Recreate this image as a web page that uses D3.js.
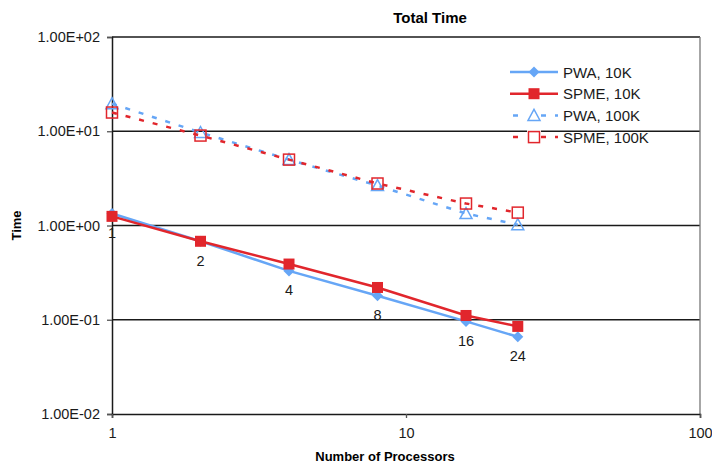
<!DOCTYPE html>
<html>
<head>
<meta charset="utf-8">
<script src="https://cdn.jsdelivr.net/npm/d3@7"></script>
<style>
  body { margin: 0; background: #fff; }
  text { font-family: "Liberation Sans", Arial, sans-serif; }
</style>
</head>
<body>
<div id="chart"></div>
<script>
const processors = [1, 2, 4, 8, 16, 24];
const pwa10k = [1.34, 0.68, 0.33, 0.18, 0.096, 0.066];
const spme10k = [1.25, 0.68, 0.39, 0.22, 0.111, 0.085];
const pwa100k = [19.6, 9.7, 5.0, 2.65, 1.34, 1.02];
const spme100k = [15.8, 9.0, 5.0, 2.79, 1.71, 1.37];
const pointLabels = ['1', '2', '4', '8', '16', '24'];
const yTicks = [0.01, 0.1, 1, 10, 100];
const xTicks = [1, 10, 100];

const blue = '#66a6f6';
const red = '#e1262c';

const series = [
  { name: 'PWA, 10K', values: pwa10k, col: blue, dash: null, marker: 'diamond', filled: true },
  { name: 'SPME, 10K', values: spme10k, col: red, dash: null, marker: 'square', filled: true },
  { name: 'PWA, 100K', values: pwa100k, col: blue, dash: '5,9', marker: 'triangle', filled: false },
  { name: 'SPME, 100K', values: spme100k, col: red, dash: '5,9', marker: 'square', filled: false }
];

const w = 712, h = 465;
const plotL = 112, plotR = 700, plotT = 37, plotB = 414;

const x = d3.scaleLog().domain([1, 100]).range([plotL, plotR]);
const y = d3.scaleLog().domain([0.01, 100]).range([plotB, plotT]);

const svg = d3.select('#chart').append('svg')
  .attr('width', w)
  .attr('height', h);

// grid lines + frame
svg.selectAll('.grid')
  .data(yTicks.slice(1, -1))
  .join('line')
  .attr('x1', plotL).attr('x2', plotR)
  .attr('y1', d => y(d)).attr('y2', d => y(d))
  .attr('stroke', '#1a1a1a')
  .attr('stroke-width', 1.3);

svg.append('line')
  .attr('x1', plotL).attr('x2', plotR).attr('y1', plotT).attr('y2', plotT)
  .attr('stroke', '#1a1a1a').attr('stroke-width', 1.3);
svg.append('line')
  .attr('x1', plotR).attr('x2', plotR).attr('y1', plotT).attr('y2', plotB)
  .attr('stroke', '#777').attr('stroke-width', 1.3);

const fmtE = d => {
  const e = Math.round(Math.log10(d));
  const m = (d / Math.pow(10, e)).toFixed(2);
  return `${m}E${e < 0 ? '-' : '+'}${String(Math.abs(e)).padStart(2, '0')}`;
};

const yAxis = svg.append('g')
  .attr('transform', `translate(${plotL},0)`)
  .call(d3.axisLeft(y).tickValues(yTicks).tickFormat(fmtE).tickSize(5).tickPadding(7));
const xAxis = svg.append('g')
  .attr('transform', `translate(0,${plotB})`)
  .call(d3.axisBottom(x).tickValues(xTicks).tickFormat(d3.format('d')).tickSize(4).tickPadding(10));

[yAxis, xAxis].forEach(a => {
  a.select('.domain').attr('stroke', '#1a1a1a').attr('stroke-width', 1.5);
  a.selectAll('.tick line').attr('stroke', '#555').attr('stroke-width', 1.3);
  a.selectAll('.tick text').style('font-size', '14.5px').attr('fill', '#1a1a1a')
    .style('font-family', '"Liberation Sans", Arial, sans-serif');
});

// titles
svg.append('text')
  .attr('x', 430).attr('y', 23)
  .attr('text-anchor', 'middle')
  .style('font-size', '15px').style('font-weight', 'bold')
  .text('Total Time');

svg.append('text')
  .attr('x', 385).attr('y', 461)
  .attr('text-anchor', 'middle')
  .style('font-size', '13px').style('font-weight', 'bold')
  .text('Number of Processors');

svg.append('text')
  .attr('transform', `translate(21,${(plotT + plotB) / 2}) rotate(-90)`)
  .attr('text-anchor', 'middle')
  .style('font-size', '13px').style('font-weight', 'bold')
  .text('Time');

// markers
function drawMarker(g, s) {
  if (s.marker === 'diamond') {
    g.append('path').attr('d', 'M0,-5.5L5.5,0L0,5.5L-5.5,0Z').attr('fill', s.col);
  } else if (s.marker === 'square') {
    g.append('rect')
      .attr('x', -5.5).attr('y', -5.5).attr('width', 11).attr('height', 11)
      .attr('fill', s.filled ? s.col : 'none')
      .attr('stroke', s.col).attr('stroke-width', s.filled ? 0 : 1.5);
  } else {
    g.append('path').attr('d', 'M0,-6L6,5L-6,5Z')
      .attr('fill', 'none').attr('stroke', s.col).attr('stroke-width', 1.5);
  }
}

const line = d3.line()
  .x((d, i) => x(processors[i]))
  .y(d => y(d));

// draw 100K first, then 10K
[2, 3, 0, 1].forEach(k => {
  const s = series[k];
  svg.append('path')
    .attr('d', line(s.values))
    .attr('fill', 'none')
    .attr('stroke', s.col)
    .attr('stroke-width', 2.5)
    .attr('stroke-dasharray', s.dash);

  svg.selectAll(null)
    .data(s.values)
    .join('g')
    .attr('transform', (d, i) => `translate(${x(processors[i])},${y(d)})`)
    .each(function () { drawMarker(d3.select(this), s); });
});

// point labels under PWA 10K
svg.selectAll('.plabel')
  .data(pointLabels)
  .join('text')
  .attr('x', (d, i) => x(processors[i]))
  .attr('y', (d, i) => y(pwa10k[i]) + 24.5)
  .attr('text-anchor', 'middle')
  .style('font-size', '14.5px')
  .attr('fill', '#1a1a1a')
  .text(d => d);

// legend
const legend = svg.append('g').attr('transform', 'translate(510,72)');
series.forEach((s, i) => {
  const row = legend.append('g').attr('transform', `translate(0,${i * 21.7})`);
  row.append('line')
    .attr('x1', 0).attr('x2', 48)
    .attr('stroke', s.col).attr('stroke-width', 2.5)
    .attr('stroke-dasharray', s.dash ? '5,9' : null)
    .attr('stroke-dashoffset', s.dash ? -3 : null);
  const m = row.append('g').attr('transform', 'translate(24,0)');
  if (!s.filled) m.append('rect').attr('x', -7).attr('y', -7).attr('width', 14).attr('height', 14).attr('fill', '#fff');
  drawMarker(m, s);
  row.append('text')
    .attr('x', 53).attr('y', 5.5)
    .style('font-size', '15px')
    .attr('fill', '#1a1a1a')
    .text(s.name);
});
</script>
</body>
</html>
